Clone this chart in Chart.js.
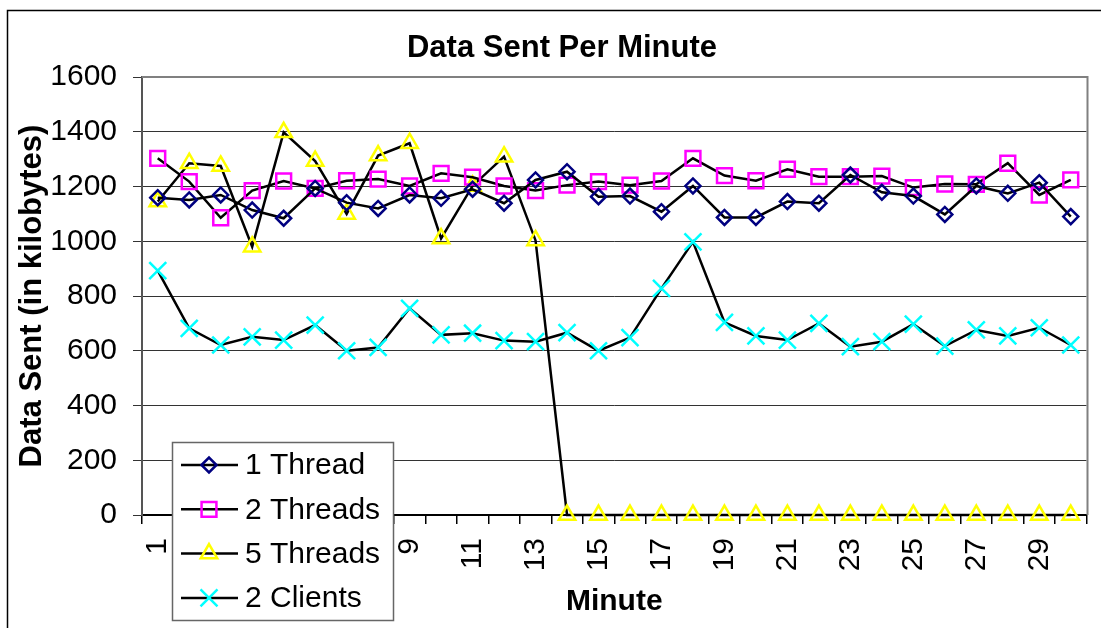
<!DOCTYPE html>
<html>
<head>
<meta charset="utf-8">
<title>Data Sent Per Minute</title>
<script src="https://cdn.jsdelivr.net/npm/chart.js@4.4.1/dist/chart.umd.min.js"></script>
<style>
  html, body { margin: 0; padding: 0; background: #fff; }
  #chart { display: block; }
</style>
</head>
<body>
<canvas id="chart" width="1101" height="628"></canvas>
<script>
// Data (kilobytes per minute)
const minutes = ['1','2','3','4','5','6','7','8','9','10','11','12','13','14','15',
                 '16','17','18','19','20','21','22','23','24','25','26','27','28','29','30'];
const oneThread  = [1159,1151,1169,1114,1084,1193,1141,1120,1169,1157,1190,1139,1224,1254,1163,
                    1165,1108,1202,1087,1087,1145,1139,1242,1179,1165,1098,1202,1175,1214,1090];
const twoThreads = [1303,1218,1086,1185,1220,1193,1221,1227,1202,1248,1234,1202,1185,1205,1218,
                    1205,1220,1303,1240,1221,1263,1236,1236,1238,1196,1209,1208,1285,1169,1224];
const fiveThreads = [1145,1285,1275,980,1398,1293,1100,1313,1358,1010,1202,1309,1003,0,0,
                     0,0,0,0,0,0,0,0,0,0,0,0,0,0,0];
const twoClients = [893,682,621,651,639,694,600,612,755,658,664,637,633,666,600,
                    648,828,998,704,654,639,700,615,633,697,617,676,654,684,621];
const yTicks = [0, 200, 400, 600, 800, 1000, 1200, 1400, 1600];
const chartTitle = 'Data Sent Per Minute';

const FONT = "'Liberation Sans', Arial, sans-serif";

const series = [
  { label: '1 Thread',  data: oneThread,   color: '#000080', style: 'rectRot', radius: 7.5 },
  { label: '2 Threads', data: twoThreads,  color: '#FF00FF', style: 'rect',    radius: 10.5 },
  { label: '5 Threads', data: fiveThreads, color: '#FFFF00', style: 'triangle', radius: 9.5 },
  { label: '2 Clients', data: twoClients,  color: '#00FFFF', style: 'crossRot', radius: 12 },
];

// white page + outer frame, title, grey plot border
const framePlugin = {
  id: 'frame',
  beforeDraw(chart) {
    const ctx = chart.ctx;
    ctx.save();
    ctx.fillStyle = '#fff';
    ctx.fillRect(0, 0, chart.width, chart.height);
    ctx.strokeStyle = '#000';
    ctx.lineWidth = 1.5;
    ctx.strokeRect(7.5, 10.5, chart.width + 10, chart.height + 10);
    // title sits a bit right of the canvas centre, as in the original
    ctx.font = 'bold 31px ' + FONT;
    ctx.fillStyle = '#000';
    ctx.textAlign = 'center';
    ctx.textBaseline = 'middle';
    ctx.fillText(chartTitle, 562, 48);
    ctx.restore();
  },
  afterDatasetsDraw(chart) {
    const a = chart.chartArea;
    const ctx = chart.ctx;
    ctx.save();
    ctx.strokeStyle = '#808080';
    ctx.lineWidth = 2;
    ctx.beginPath();
    ctx.moveTo(a.left, a.top);
    ctx.lineTo(a.right + 1, a.top);
    ctx.lineTo(a.right + 1, a.bottom);
    ctx.stroke();
    ctx.restore();
  }
};

// Excel style legend box with line + marker samples
const legendPlugin = {
  id: 'boxLegend',
  afterDraw(chart) {
    const ctx = chart.ctx;
    const x = 172, y = 442, w = 221, h = 178;
    ctx.save();
    ctx.fillStyle = '#fff';
    ctx.fillRect(x, y, w, h);
    ctx.strokeStyle = '#666';
    ctx.lineWidth = 1.5;
    ctx.strokeRect(x + 0.5, y + 0.5, w, h);
    ctx.font = '30px ' + FONT;
    ctx.textBaseline = 'middle';
    series.forEach((s, i) => {
      const cy = 465 + i * 44.3;
      ctx.strokeStyle = '#000';
      ctx.lineWidth = 2.5;
      ctx.beginPath();
      ctx.moveTo(181, cy);
      ctx.lineTo(238, cy);
      ctx.stroke();
      ctx.strokeStyle = s.color;
      ctx.fillStyle = 'rgba(0,0,0,0)';
      ctx.lineWidth = 2.5;
      Chart.helpers.drawPoint(ctx, { pointStyle: s.style, radius: s.radius, borderWidth: 2.5 }, 209, cy);
      ctx.fillStyle = '#000';
      ctx.fillText(s.label, 245, cy + 1);
    });
    ctx.restore();
  }
};

new Chart(document.getElementById('chart').getContext('2d'), {
  type: 'line',
  data: {
    labels: minutes,
    datasets: series.map(s => ({
      label: s.label,
      data: s.data,
      borderColor: '#000',
      borderWidth: 2.5,
      tension: 0,
      pointStyle: s.style,
      pointRadius: s.radius,
      pointBorderColor: s.color,
      pointBackgroundColor: 'rgba(0,0,0,0)',
      pointBorderWidth: 2.5,
      clip: false,
    }))
  },
  options: {
    responsive: false,
    devicePixelRatio: 1,
    animation: false,
    layout: { padding: { left: 0, right: 13, top: 77, bottom: 0 } },
    plugins: {
      legend: { display: false },
      tooltip: { enabled: false },
      title: { display: false }
    },
    scales: {
      x: {
        offset: true,
        grid: { offset: true, drawOnChartArea: false, drawTicks: true, tickLength: 9, color: '#000', lineWidth: 1.5 },
        border: { color: '#000', width: 2 },
        ticks: {
          autoSkip: false,
          maxRotation: 90,
          minRotation: 90,
          padding: 14,
          color: '#000',
          font: { family: FONT, size: 30 },
          callback: (v, i) => (i % 2 === 0 ? minutes[i] : '')
        },
        title: {
          display: true,
          text: 'Minute',
          color: '#000',
          font: { family: FONT, size: 30, weight: 'bold' },
          padding: { top: 0, bottom: 8 }
        },
        afterFit(scale) {
          scale.height = 113;
          scale.paddingLeft = 0;
          scale.paddingRight = 0;
        }
      },
      y: {
        min: 0,
        max: 1600,
        afterBuildTicks(scale) { scale.ticks = yTicks.map(v => ({ value: v })); },
        grid: { color: '#333', lineWidth: 1, tickLength: 9 },
        border: { color: '#555', width: 2 },
        ticks: {
          padding: 16,
          color: '#000',
          font: { family: FONT, size: 30 },
          callback: v => String(v)
        },
        title: {
          display: true,
          text: 'Data Sent (in kilobytes)',
          color: '#000',
          font: { family: FONT, size: 31, weight: 'bold' },
          padding: { top: 14, bottom: 0 }
        },
        afterFit(scale) {
          scale.width = 142;
          scale.paddingTop = 0;
          scale.paddingBottom = 0;
        }
      }
    }
  },
  plugins: [framePlugin, legendPlugin]
});
</script>
</body>
</html>
